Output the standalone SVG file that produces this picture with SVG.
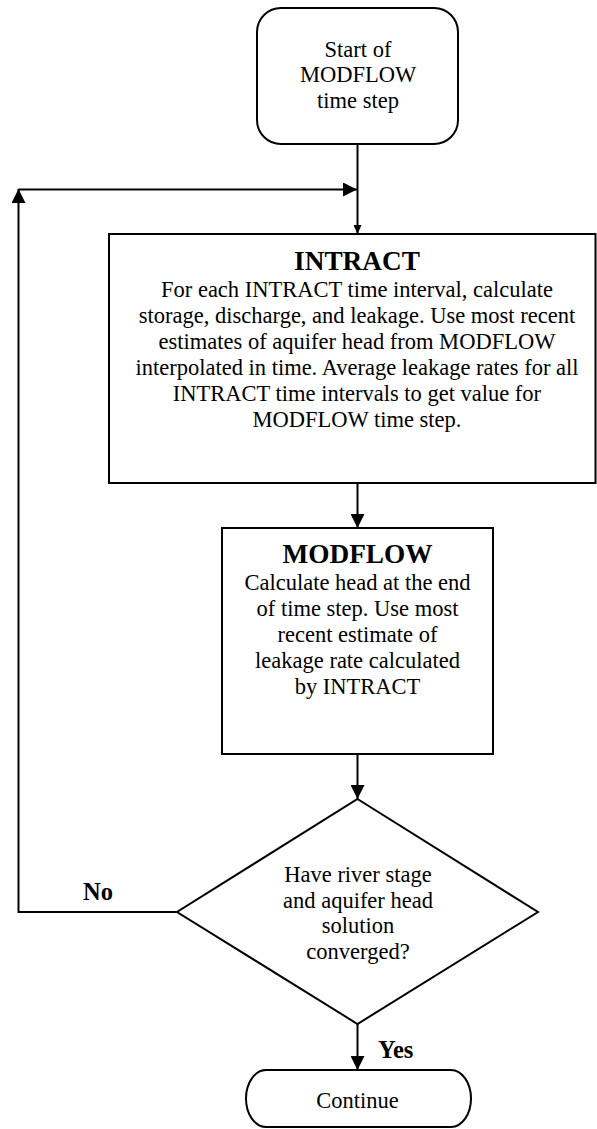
<svg xmlns="http://www.w3.org/2000/svg" width="597" height="1129" viewBox="0 0 597 1129">
<style>
.shape{fill:#fff;stroke:#000;stroke-width:2}
.line{fill:none;stroke:#000;stroke-width:2}
text{font-family:"Liberation Serif","Times New Roman",serif;fill:#000;text-anchor:middle}
.body{font-size:22.5px}
.title{font-size:27.3px;font-weight:bold}
.lbl{font-size:24.5px;font-weight:bold;text-anchor:start}
</style>
<defs>
<marker id="arr" viewBox="0 0 14 14" markerWidth="14" markerHeight="14" refX="14" refY="7" orient="auto" markerUnits="userSpaceOnUse"><path d="M0,0 L14,7 L0,14 z" fill="#000"/></marker>
<marker id="arrs" viewBox="0 0 9 8" markerWidth="9" markerHeight="8" refX="9" refY="4" orient="auto" markerUnits="userSpaceOnUse"><path d="M0,0 L9,4 L0,8 z" fill="#000"/></marker>
</defs>
<g id="connectors">
<line class="line" x1="357.5" y1="144" x2="357.5" y2="234" marker-end="url(#arrs)"/>
<line class="line" x1="18.5" y1="189.5" x2="357" y2="189.5" marker-end="url(#arr)"/>
<polyline class="line" points="177,912 18.5,912 18.5,189" marker-end="url(#arr)"/>
<line class="line" x1="357.5" y1="483" x2="357.5" y2="528" marker-end="url(#arr)"/>
<line class="line" x1="357.5" y1="754" x2="357.5" y2="799" marker-end="url(#arr)"/>
<line class="line" x1="357.5" y1="1024" x2="357.5" y2="1070" marker-end="url(#arr)"/>
<text class="lbl" x="83" y="900">No</text>
<text class="lbl" x="378" y="1058">Yes</text>
</g>
<g id="start">
<rect class="shape" x="257" y="8" width="201" height="136" rx="24" ry="24"/>
<text class="body" x="358" y="56.5">Start of</text>
<text class="body" x="358" y="82">MODFLOW</text>
<text class="body" x="358" y="107.5">time step</text>
</g>
<g id="intract">
<rect class="shape" x="109" y="234" width="486.5" height="249"/>
<text class="title" x="357" y="270">INTRACT</text>
<text class="body" x="357" y="297">For each INTRACT time interval, calculate</text>
<text class="body" x="357" y="323">storage, discharge, and leakage. Use most recent</text>
<text class="body" x="357" y="349">estimates of aquifer head from MODFLOW</text>
<text class="body" x="357" y="375">interpolated in time. Average leakage rates for all</text>
<text class="body" x="357" y="401">INTRACT time intervals to get value for</text>
<text class="body" x="357" y="427">MODFLOW time step.</text>
</g>
<g id="modflow">
<rect class="shape" x="222" y="528" width="271" height="226"/>
<text class="title" x="357.5" y="563">MODFLOW</text>
<text class="body" x="357.5" y="590">Calculate head at the end</text>
<text class="body" x="357.5" y="616">of time step. Use most</text>
<text class="body" x="357.5" y="642">recent estimate of</text>
<text class="body" x="357.5" y="668">leakage rate calculated</text>
<text class="body" x="357.5" y="694">by INTRACT</text>
</g>
<g id="decision">
<polygon class="shape" points="357.5,799 538,912 357.5,1024 177,912"/>
<text class="body" x="358" y="882">Have river stage</text>
<text class="body" x="358" y="907.5">and aquifer head</text>
<text class="body" x="358" y="933">solution</text>
<text class="body" x="358" y="958.5">converged?</text>
</g>
<g id="continue">
<path class="shape" d="M266,1070 H451 A20,28.5 0 0 1 451,1127 H266 A20,28.5 0 0 1 266,1070 Z"/>
<text class="body" x="357.5" y="1108">Continue</text>
</g>
</svg>
